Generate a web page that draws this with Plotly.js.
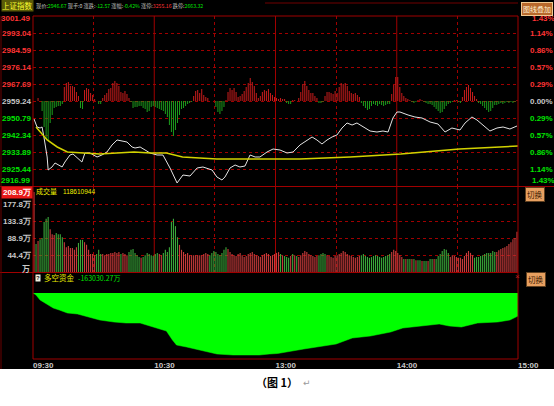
<!DOCTYPE html>
<html><head><meta charset="utf-8">
<script src="https://cdn.plot.ly/plotly-3.0.1.min.js"></script>
<style>html,body{margin:0;padding:0;background:#fff;}#chart{width:554px;height:406px;}</style>
</head><body><div id="chart"></div>
<script>
// ---------------- data ----------------
const prevClose = 2959.24;
const priceTicks = [3001.49, 2993.04, 2984.59, 2976.14, 2967.69, 2959.24, 2950.79, 2942.34, 2933.89, 2925.44, 2916.99];
const pctLabels = ['1.43%','1.14%','0.86%','0.57%','0.29%','0.00%','0.29%','0.57%','0.86%','1.14%','1.43%'];
const timeTicks = [0, 60, 120, 180, 240];
const timeLabels = ['09:30','10:30','13:00','14:00','15:00'];

const priceMin = [0.5,2,3.5,4.5,5.4,7,7.5,9.4,10.9,12.4,14.4,15.8,18.3,19.8,22.3,24.2,25.7,28.2,31.7,34.1,36.6,39.1,41.6,44,46.5,49,50.5,53,55.4,57.9,61.4,64.3,67.8,71.3,74.2,77.7,81.2,84.1,88.6,91,93.5,95,97.5,100,102.4,104.9,107.4,109.9,112.3,115.8,118.8,122.2,125.7,128.7,132.1,135.6,138.1,140.5,143,145.5,148,150.4,152.9,155.4,157.9,160.3,163.3,166.8,170.2,173.2,175.7,178.1,180.1,181.6,185.6,189,192.5,196.5,200.4,203.9,207.3,211.3,213.8,217.2,219.7,222.7,226.1,229.6,232.6,236,239.5];
const price = [2950.29,2946.32,2945.82,2946.32,2941.35,2931.41,2924.95,2926.44,2928.43,2927.43,2926.44,2928.92,2932.40,2932.90,2930.91,2928.92,2933.40,2933.40,2931.41,2932.40,2933.89,2937.37,2939.86,2939.36,2938.86,2936.38,2935.88,2936.38,2934.89,2933.40,2932.40,2932.40,2925.94,2918.49,2922.46,2921.96,2925.94,2926.44,2924.95,2921.47,2919.98,2921.47,2925.94,2927.43,2926.44,2926.93,2932.40,2931.41,2931.41,2933.89,2935.38,2934.89,2933.40,2933.89,2937.37,2939.86,2941.35,2939.86,2937.87,2939.86,2941.35,2942.34,2945.82,2948.31,2947.31,2948.31,2946.32,2944.33,2943.83,2944.33,2943.83,2950.79,2953.77,2953.77,2952.28,2951.29,2950.79,2948.80,2947.81,2943.83,2945.82,2944.83,2948.31,2951.29,2949.80,2947.31,2944.33,2945.82,2946.32,2945.32,2946.81];

const avgMin = [1.5,4,7,12,17,25,33,50,58,66,74,91,107,132,157,182,211,240];
const avgPrice = [2946.32,2943.34,2939.86,2936.38,2933.89,2933.40,2932.90,2933.89,2933.40,2933.40,2931.41,2930.41,2930.41,2930.41,2931.41,2932.90,2935.38,2936.88];

// red/green strength columns around the previous close (one per minute)
const strength = [
 0,0,3,0,-10,-26,-38,-40,-22,-14,
 -7,-6,-5,-5,-3,14,18,19,15,15,
 14,9,5,-7,-8,11,13,12,8,6,
 2,0,-3,-3,3,6,8,12,13,18,
 20,18,15,9,8,10,7,3,-1,-7,
 -6,-6,-5,-5,-7,-8,-11,-10,-6,-5,
 -6,-7,-8,-9,-10,-13,-16,-24,-31,-35,
 -29,-22,-14,-8,-7,-5,-3,-2,-1,5,
 10,11,8,12,6,4,3,0,0,0,
 -6,-11,-13,-10,-6,1,9,13,11,13,
 9,4,5,7,10,14,18,23,19,15,
 8,3,5,9,11,10,12,8,6,4,
 3,2,3,2,2,-2,-3,-3,1,1,
 0,3,9,17,20,15,11,8,8,5,
 3,-2,-2,-1,5,9,9,8,7,10,
 8,14,18,17,18,15,10,8,7,8,
 6,4,-2,-5,-7,-9,-8,-5,-3,-4,
 -5,-3,-4,-5,-4,-3,-3,7,16,24,
 24,14,8,5,3,2,1,-1,-2,-1,
 1,2,1,-1,-2,-3,-3,-4,-6,-8,
 -10,-12,-11,-8,-5,-3,-2,-1,1,1,
 -1,-2,4,11,14,16,13,9,5,2,
 -2,-3,-5,-7,-9,-11,-10,-7,-4,-4,
 -3,-2,-3,-2,-1,-2,-1,-2,-1,1];

// per-minute volume (万)
const volume = [
 209,73,81,86,89,131,139,144,112,99,
 97,102,99,99,91,78,65,68,63,63,
 58,65,76,84,84,78,71,58,47,47,
 44,47,58,47,47,44,47,47,50,50,
 52,50,52,47,50,47,44,52,58,60,
 50,44,39,37,39,44,50,47,44,42,
 47,50,47,44,50,58,52,65,131,139,
 120,91,71,58,52,47,50,44,44,44,
 44,44,44,44,47,50,47,44,50,55,
 52,47,44,50,58,65,60,52,47,44,
 42,47,50,44,39,42,47,50,52,47,
 44,42,39,44,47,50,47,42,44,47,
 50,52,47,44,42,39,37,42,47,44,
 42,39,44,50,55,52,47,44,42,39,
 42,44,47,50,47,44,42,39,37,42,
 44,47,50,55,52,47,44,42,39,37,
 39,42,44,47,42,39,37,39,42,44,
 42,39,37,39,42,44,47,52,58,55,
 50,44,39,34,34,34,34,34,34,31,
 31,31,29,29,29,29,34,34,34,34,
 42,47,55,60,58,50,39,44,42,39,
 37,37,34,42,50,55,50,44,37,39,
 39,42,44,47,50,50,50,55,52,52,
 57,60,63,65,68,73,78,86,89,105];
// r = up minute, g = down minute
const volColorCode = ["r","g","r","ggggg","rrr","gggg","rrrrrrr","ggg","rrrrrr","ggg","rrrrrrrrr","g","rrr","gggggg","r","gggggggg","rr","gggggggg",
 "rrrrrrrrrrrrrrr","ggggggggg","rrrrrrrrrrrrrrrrrrrrrrrrr","rgrgggrgrg","rrrrrrrrrr","gggg","rrrrrrrrrrrrrrrrr","ggggggggggggggg","rrrrrr",
 "grggrgrggrggrggrg","gggggg","rrrrrrrrrrrr","ggggggggggg","rrrrrrrrrrr"].join("");
const volTicks = [0, 44.4, 88.9, 133.3, 177.8];
const volTickLabels = ['', '44.4万', '88.9万', '133.3万', '177.8万'];
const volMax = 208.9;

const flowMin = [0,1.5,3.5,6,10,13,17,22,27,33,40,46,53,59,66,69,71,76,83,91,99,112,117,121,134,150,158,167,177,183,192,201,206,212,220,230,236,240];
const flow = [0,-14000,-49600,-70900,-106300,-120500,-141800,-148800,-170100,-191400,-205600,-212600,-212600,-241000,-269300,-333100,-368600,-382800,-404000,-432400,-439500,-439500,-432400,-429000,-396900,-361500,-319000,-304800,-276400,-248100,-233900,-219700,-233900,-241000,-212600,-205600,-191400,-163030.27];

// quote header
const quoteFields = [['现价', '2946.67'], ['现手', '0'], ['涨跌', '-12.57'], ['涨幅', '-0.42%'], ['涨停', '3255.16'], ['跌停', '2663.32']];
const quoteColors = ['#00e400', '#d0d0d0', '#00e400', '#00e400', '#ff3434', '#00e400'];

// ---------------- drawing ----------------
const W = 554, H = 406;
const px = v => v / W, py = v => 1 - v / H;
const UP = '#ff3434', FLAT = '#c8c8c8', DN = '#00e400';
const NUM = 'Liberation Sans', CJK = 'Noto Sans CJK SC';
const GRID = '#a00000', BORDER = '#a00000';

const barX = strength.map((_, i) => i + 0.5);

const colorOf = v => v > prevClose ? UP : (v < prevClose ? DN : FLAT);
const leftText = priceTicks.map(v => '<span style="color:' + colorOf(v) + '">' + v.toFixed(2) + '</span>');
const rightText = pctLabels.map((t, i) => '<span style="color:' + colorOf(priceTicks[i]) + '">' + t + '</span>');
const inner = priceTicks.slice(1, -1);

const traces = [
  {type:'bar', x:barX, y:strength, xaxis:'x', yaxis:'y4', width:0.5,
   marker:{color:strength.map(v => v >= 0 ? '#c81c1c' : '#1c9c1c'), line:{width:0}}, hoverinfo:'skip'},
  {type:'scatter', mode:'lines', x:avgMin, y:avgPrice, xaxis:'x', yaxis:'y5',
   line:{color:'#d2d200', width:1.5}, hoverinfo:'skip'},
  {type:'scatter', mode:'lines', x:priceMin, y:price, xaxis:'x', yaxis:'y',
   line:{color:'#e4e4e4', width:1}, hoverinfo:'skip'},
  {type:'bar', x:barX, y:volume, xaxis:'x2', yaxis:'y2', width:0.55,
   marker:{color:volume.map((_, i) => volColorCode[i] === 'g' ? '#3aa83a' : '#c83c3c'), line:{width:0}}, hoverinfo:'skip'},
  {type:'scatter', mode:'lines', x:flowMin, y:flow, xaxis:'x3', yaxis:'y3', fill:'tozeroy',
   fillcolor:'#00ff00', line:{color:'#00ff00', width:0.5}, hoverinfo:'skip'}
];

const xdom = [px(33), px(518)];
const xbase = {domain:xdom, range:[0,240], showline:false, zeroline:false, ticks:'', fixedrange:true};
const tickFont = {family:NUM, size:8, weight:'bold', color:FLAT};

const annotations = [];
function A(text, x, y, o) {
  o = o || {};
  annotations.push(Object.assign({
    text:text, xref:'paper', yref:'paper', x:px(x), y:py(y),
    xanchor:o.xa || 'left', yanchor:'middle', showarrow:false,
    font:{family:o.family || CJK, size:o.size || 7, color:o.color || FLAT, weight:o.weight || 'normal'}
  }, o.extra || {}));
}
// edge tick labels tied to the data scales
annotations.push({text:leftText[0], xref:'paper', yref:'y', x:px(32), y:priceTicks[0], xanchor:'right', yanchor:'middle', yshift:-3, showarrow:false, font:tickFont});
annotations.push({text:leftText[10], xref:'paper', yref:'y', x:px(32), y:priceTicks[10], xanchor:'right', yanchor:'middle', yshift:5, showarrow:false, font:tickFont});
annotations.push({text:rightText[0], xref:'paper', yref:'y', x:px(530), y:priceTicks[0], xanchor:'left', yanchor:'middle', yshift:-3, showarrow:false, font:tickFont});
annotations.push({text:rightText[10], xref:'paper', yref:'y', x:px(530), y:priceTicks[10], xanchor:'left', yanchor:'middle', yshift:5, showarrow:false, font:tickFont});
annotations.push({text:volMax.toFixed(1) + '万', xref:'paper', yref:'y2', x:px(32.5), y:volMax, xanchor:'right', yanchor:'middle', showarrow:false,
  bgcolor:'#e81818', borderpad:1, font:{family:NUM, size:8, weight:'bold', color:'#ffffff'}});
annotations.push({text:'万', xref:'paper', yref:'y2', x:px(32), y:0, xanchor:'right', yanchor:'middle', yshift:4, showarrow:false,
  font:{family:CJK, size:8, weight:'bold', color:FLAT}});

// header row
A('上证指数', 0.5, 6, {color:'#ffff30', size:7.5, extra:{bgcolor:'#5a5a08', borderpad:0}});
const quoteHtml = quoteFields.map((f, i) => f[0] + ':<span style="color:' + quoteColors[i] + '">' + f[1] + '</span>').join(' ');
A(quoteHtml, 34, 6, {size:5.2, color:'#c0c0c0'});
A('图线叠加', 537, 8.5, {xa:'center', size:7, color:'#fff0d0', extra:{bgcolor:'#b8682c', bordercolor:'#f0c890', borderwidth:1, borderpad:1}});
// volume header
A('成交量', 34, 191, {size:7, color:'#f0f000'});
A('118610944', 61, 191, {family:NUM, size:6.5, color:'#f0f000'});
A('切换', 535, 194, {xa:'center', size:7.5, color:'#3a1800', extra:{bgcolor:'#e8a060', bordercolor:'#604020', borderwidth:1, borderpad:1}});
// flow header
A('?', 35, 277.5, {family:NUM, size:6, weight:'bold', color:'#202020', extra:{bgcolor:'#f0f0e0', borderpad:0}});
A('多空资金', 42, 277.5, {size:7.5, color:'#e8e800'});
A('-163030.27万', 76, 277.5, {size:7, color:'#00e000'});
A('×', 517, 276, {xa:'center', family:NUM, size:8, color:'#c02020'});
A('切换', 536, 279.5, {xa:'center', size:7.5, color:'#3a1800', extra:{bgcolor:'#e8a060', bordercolor:'#604020', borderwidth:1, borderpad:1}});
// caption
A('（图 1）', 277, 382, {xa:'center', size:11, weight:'bold', color:'#000000'});
A('↵', 307, 383, {xa:'center', family:'DejaVu Sans', size:9, color:'#9a9a9a'});

function L(x0, y0, x1, y1, color, w) {
  return {type:'line', xref:'paper', yref:'paper', x0:px(x0), y0:py(y0), x1:px(x1), y1:py(y1), line:{color:color, width:w || 1}, layer:'above'};
}
const shapes = [
  {type:'rect', xref:'paper', yref:'paper', x0:0, x1:1, y0:0, y1:py(369), fillcolor:'#ffffff', line:{width:0}, layer:'below'},
  L(33, 16, 518, 16, BORDER), L(0, 186.5, 554, 186.5, BORDER), L(0, 272.5, 518, 272.5, BORDER), L(33, 359, 518, 359, BORDER),
  L(33, 16, 33, 359, BORDER), L(518, 16, 518, 359, BORDER), L(1, 16, 1, 369, '#6a0000'), L(265, 3, 518, 3, '#700000')
];
[60, 120, 180].forEach(m => shapes.push({type:'line', xref:'x', yref:'paper', x0:m, x1:m, y0:py(272), y1:py(16), line:{color:BORDER, width:1}, layer:'below'}));

const layout = {
  width:W, height:H, autosize:false, margin:{l:0, r:0, t:0, b:0, pad:0},
  paper_bgcolor:'#000000', plot_bgcolor:'#000000', showlegend:false,
  xaxis:Object.assign({}, xbase, {anchor:'y', tickvals:[30,90,150,210], showticklabels:false, showgrid:true, gridcolor:GRID, griddash:'dot', gridwidth:1}),
  xaxis2:Object.assign({}, xbase, {anchor:'y2', matches:'x', tickvals:[30,90,150,210], showticklabels:false, showgrid:true, gridcolor:GRID, griddash:'dot', gridwidth:1}),
  xaxis3:Object.assign({}, xbase, {anchor:'y3', matches:'x', tickvals:timeTicks, ticktext:timeLabels, showgrid:false,
    ticklabelposition:'outside right', tickfont:tickFont}),
  yaxis:{domain:[py(186), py(16)], range:[priceTicks[10], priceTicks[0]], anchor:'x', side:'left',
    tickvals:inner, ticktext:leftText.slice(1, -1), tickfont:tickFont, ticks:'', showgrid:true, gridcolor:GRID, griddash:'dot', gridwidth:1,
    zeroline:false, showline:false, fixedrange:true, ticklabelstandoff:1},
  yaxis5:{overlaying:'y', anchor:'x', side:'right', range:[priceTicks[10], priceTicks[0]],
    tickvals:inner, ticktext:rightText.slice(1, -1), tickfont:tickFont, ticks:'', showgrid:false, zeroline:false, showline:false, ticklabelstandoff:11, fixedrange:true},
  yaxis4:{overlaying:'y', anchor:'x', range:[-85, 85], visible:false, fixedrange:true},
  yaxis2:{domain:[py(272), py(186)], range:[0, 225], anchor:'x2', side:'left',
    tickvals:volTicks, ticktext:volTickLabels, tickfont:tickFont, ticks:'', showgrid:true, gridcolor:GRID, griddash:'dot', gridwidth:1,
    zeroline:false, showline:false, fixedrange:true, ticklabelstandoff:1},
  yaxis3:{domain:[py(359), py(273)], range:[-467800, 141760], anchor:'x3', visible:false, showgrid:false, zeroline:false, fixedrange:true},
  shapes:shapes, annotations:annotations
};

Plotly.newPlot('chart', traces, layout, {staticPlot:true, displayModeBar:false});
</script>
</body></html>
